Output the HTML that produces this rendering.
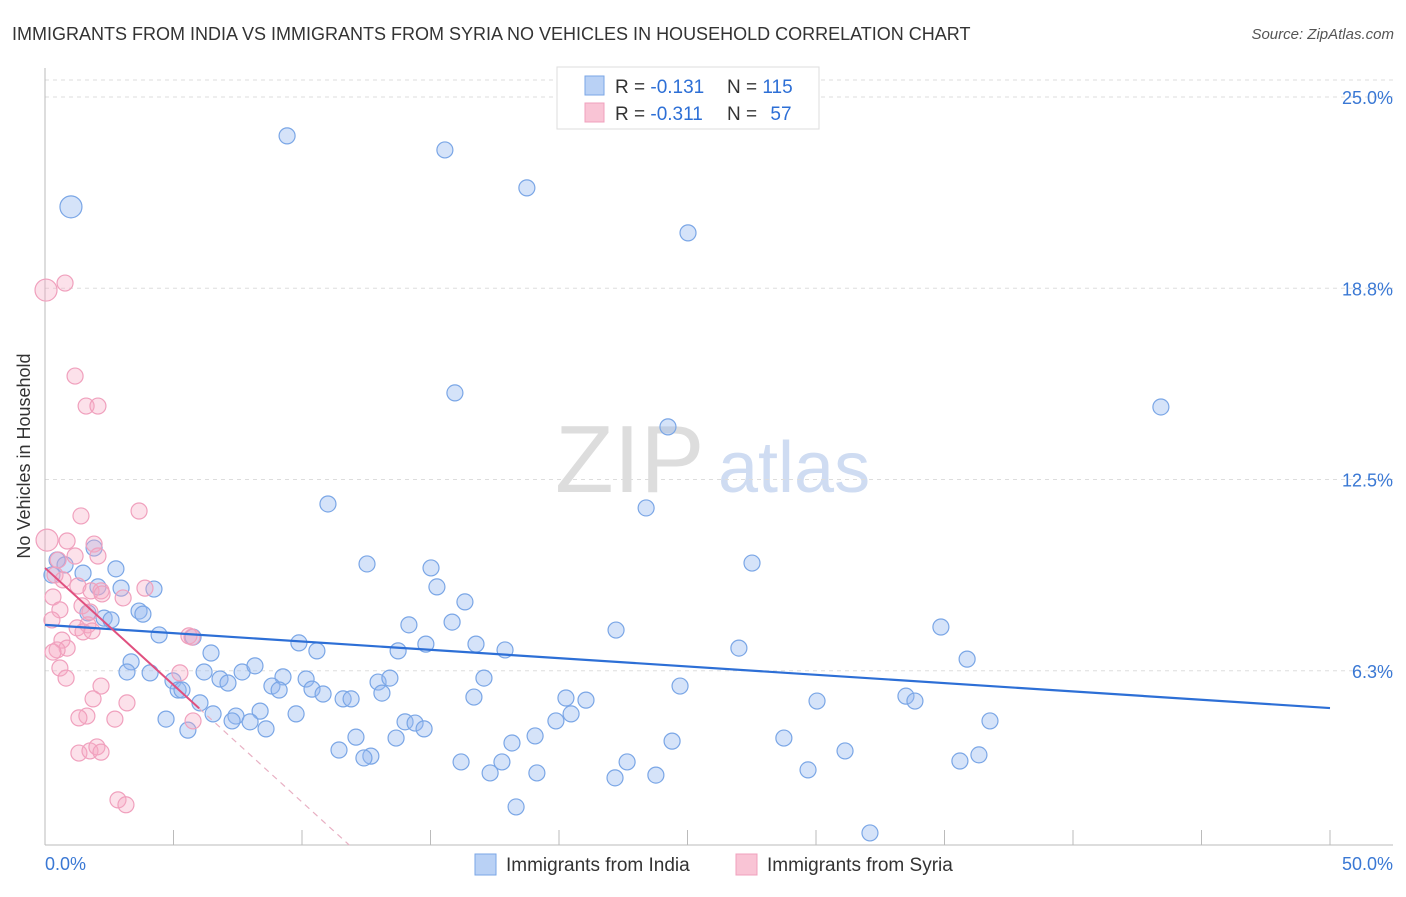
<!DOCTYPE html>
<html><head><meta charset="utf-8"><style>
body{margin:0;background:#fff;font-family:"Liberation Sans",sans-serif;}
svg text{font-family:"Liberation Sans",sans-serif;}
</style></head><body>
<svg id="chart" width="1406" height="892">
<text x="12" y="40" font-size="18" fill="#333">IMMIGRANTS FROM INDIA VS IMMIGRANTS FROM SYRIA NO VEHICLES IN HOUSEHOLD CORRELATION CHART</text>
<text x="1394" y="39" font-size="15" fill="#555" font-style="italic" text-anchor="end">Source: ZipAtlas.com</text>
<g><text x="555" y="492" font-size="96" fill="#ddd" font-family="Liberation Serif">ZIP</text><text x="718" y="492" font-size="72" fill="#cfdcf2">atlas</text></g>
<g id="grid"></g><g id="axes"></g><g id="pts"></g><g id="lines"></g>
<text x="30" y="456" font-size="18" fill="#333" text-anchor="middle" transform="rotate(-90 30 456)">No Vehicles in Household</text>
<g>
<rect x="557" y="67" width="262" height="62" fill="#fff" stroke="#ddd"/>
<rect x="585" y="76" width="19" height="19" fill="#b9d1f5" stroke="#7aa6e6"/>
<rect x="585" y="103" width="19" height="19" fill="#f9c4d5" stroke="#f0a0bd"/>
<text x="615" y="93" font-size="19" fill="#333">R = <tspan fill="#2d6fd6">-0.131</tspan><tspan x="727">N = </tspan><tspan fill="#2d6fd6">115</tspan></text>
<text x="615" y="120" font-size="19" fill="#333">R = <tspan fill="#2d6fd6">-0.311</tspan><tspan x="727">N = </tspan><tspan fill="#2d6fd6" dx="8">57</tspan></text>
</g>
<g>
<rect x="475" y="854" width="21" height="21" fill="#b9d1f5" stroke="#7aa6e6"/>
<text x="506" y="871" font-size="19" fill="#333">Immigrants from India</text>
<rect x="736" y="854" width="21" height="21" fill="#f9c4d5" stroke="#f0a0bd"/>
<text x="767" y="871" font-size="19" fill="#333">Immigrants from Syria</text>
</g>
</svg>
<script>
const indiaX=[9.42,15.56,18.75,25.02,1.01,15.95,43.42,24.24,11.01,23.39,1.91,0.47,0.78,0.27,1.48,2.76,12.53,15.02,27.51,15.25,2.06,2.96,4.24,16.34,3.66,3.81,2.30,2.57,1.67,14.16,15.84,22.22,34.86,4.44,5.76,9.88,14.82,16.77,10.58,13.74,17.90,27.00,35.88,3.35,3.19,4.09,6.46,6.19,7.67,8.17,6.81,7.12,9.26,10.16,4.98,5.18,5.33,8.83,9.11,10.39,10.82,12.96,13.42,17.08,24.71,6.03,11.60,11.91,13.11,16.69,20.27,21.05,30.04,33.50,33.85,6.54,8.37,9.77,4.71,7.43,7.28,7.98,8.60,5.56,14.01,14.40,14.75,20.47,19.88,36.77,12.10,13.66,19.07,24.40,28.75,11.44,12.68,12.41,18.17,31.13,16.19,17.78,17.32,19.14,22.65,22.18,23.77,29.69,35.60,36.34,18.33,32.10];
const indiaY=[23.73,23.27,22.03,20.56,21.41,15.33,14.87,14.22,11.70,11.57,10.26,9.87,9.71,9.38,9.44,9.58,9.74,9.61,9.77,8.99,8.99,8.95,8.92,8.50,8.20,8.10,7.97,7.91,8.14,7.75,7.84,7.58,7.68,7.42,7.35,7.16,7.12,7.12,6.90,6.90,6.93,6.99,6.63,6.54,6.21,6.18,6.83,6.21,6.21,6.41,5.98,5.85,6.05,5.98,5.92,5.62,5.62,5.75,5.62,5.65,5.49,5.88,6.01,6.01,5.75,5.20,5.33,5.33,5.52,5.39,5.36,5.29,5.26,5.42,5.26,4.84,4.93,4.84,4.67,4.77,4.61,4.58,4.35,4.31,4.58,4.54,4.35,4.84,4.61,4.61,4.08,4.05,4.12,3.95,4.05,3.66,3.46,3.40,3.89,3.63,3.27,3.27,2.91,2.91,3.27,2.75,2.84,3.01,3.30,3.50,1.80,0.95];
const indiaBig=[4];
const syriaX=[0.04,0.78,1.17,1.60,2.06,1.40,3.66,0.08,0.86,1.91,1.17,0.51,2.06,0.39,0.70,1.28,0.31,1.79,2.18,3.04,3.89,2.22,0.58,1.44,1.75,0.27,1.67,1.25,1.48,1.83,0.66,0.86,0.47,0.31,5.60,5.72,0.58,0.82,5.25,2.18,1.87,3.19,1.63,1.32,2.72,5.76,1.32,1.75,2.02,2.18,2.84,3.15];
const syriaY=[18.69,18.92,15.88,14.90,14.90,11.31,11.47,10.52,10.49,10.39,10.0,9.87,10.0,9.38,9.22,9.02,8.66,8.86,8.86,8.63,8.95,8.76,8.24,8.37,8.17,7.91,7.75,7.65,7.52,7.55,7.25,6.99,6.93,6.86,7.39,7.35,6.34,6.01,6.18,5.75,5.33,5.20,4.77,4.71,4.67,4.61,3.56,3.63,3.76,3.59,2.03,1.87];
const syriaBig=[0,7];
const yTicks=[25.0,18.8,12.5,6.3];
const yTickLabels=["25.0%","18.8%","12.5%","6.3%"];
const xTickVals=[0,5,10,15,20,25,30,35,40,45,50];
const xEndLabels=["0.0%","50.0%"];
const indiaFit=[7.75,5.03];
const syriaFit=[9.61,-0.765];
const X0=45,X1=1330,Y0=862,YK=30.6;
const sx=v=>X0+(X1-X0)*v/50;
const sy=v=>Y0-v*YK;
const NS='http://www.w3.org/2000/svg';
function mk(tag,attrs,parent){const e=document.createElementNS(NS,tag);for(const k in attrs)e.setAttribute(k,attrs[k]);document.getElementById(parent).appendChild(e);return e;}
// grid
let g=mk('line',{x1:X0,x2:1393,y1:80,y2:80,stroke:'#ddd','stroke-dasharray':'4 4'},'grid');


yTicks.forEach((t,i)=>{
 const y=97+(25-t)*YK*(6.25/6.25)*((t===18.8)?(191/ (6.2*YK)):1);
 const yy=sy(t===25?25:t===18.8?18.75:t===12.5?12.5:6.25);
 const l=mk('line',{x1:X0,x2:1393,y1:yy,y2:yy,stroke:'#ddd','stroke-dasharray':'4 4'},'grid');
 
 
 const tx=mk('text',{x:1393,y:yy+7,'font-size':18,fill:'#3a78d4','text-anchor':'end'},'grid');
 tx.textContent=yTickLabels[i];
 
 
});
let a=mk('line',{x1:X0,x2:1393,y1:845,y2:845,stroke:'#bbb'},'axes');


a=mk('line',{x1:X0,x2:X0,y1:68,y2:845,stroke:'#bbb'},'axes');


xTickVals.forEach(v=>{const t=mk('line',{x1:sx(v),x2:sx(v),y1:830,y2:845,stroke:'#bbb'},'axes');
 
 });
[[0,'start',45],[1,'end',1393]].forEach(([i,an,x])=>{const t=mk('text',{x:x,y:870,'font-size':18,fill:'#3a78d4','text-anchor':an},'axes');t.textContent=xEndLabels[i];
 
 });
function pts(X,Y,big,fill,stroke,name){X.forEach((v,i)=>{const c=mk('circle',{cx:sx(v),cy:sy(Y[i]),r:big.includes(i)?11:8,fill:fill,stroke:stroke,'stroke-width':1.2},'pts');
 
 });}
pts(indiaX,indiaY,indiaBig,'rgba(150,185,240,0.4)','#7aa6e6','india-point');
pts(syriaX,syriaY,syriaBig,'rgba(245,170,195,0.35)','#f0a0bd','syria-point');
let L=mk('line',{x1:sx(0),y1:sy(indiaFit[0]),x2:sx(50),y2:sy(indiaFit[1]),stroke:'#2d6fd6','stroke-width':2.2},'lines');


const sEnd=6.0, sZero=-(syriaFit[0]-0.55)/syriaFit[1];
L=mk('line',{x1:sx(0),y1:sy(syriaFit[0]),x2:sx(sEnd),y2:sy(syriaFit[0]+syriaFit[1]*sEnd),stroke:'#e0507f','stroke-width':2},'lines');


L=mk('line',{x1:sx(sEnd),y1:sy(syriaFit[0]+syriaFit[1]*sEnd),x2:sx(sZero),y2:sy(0.55),stroke:'#e8b0c3','stroke-width':1.2,'stroke-dasharray':'6 5'},'lines');


</script>
</body></html>
